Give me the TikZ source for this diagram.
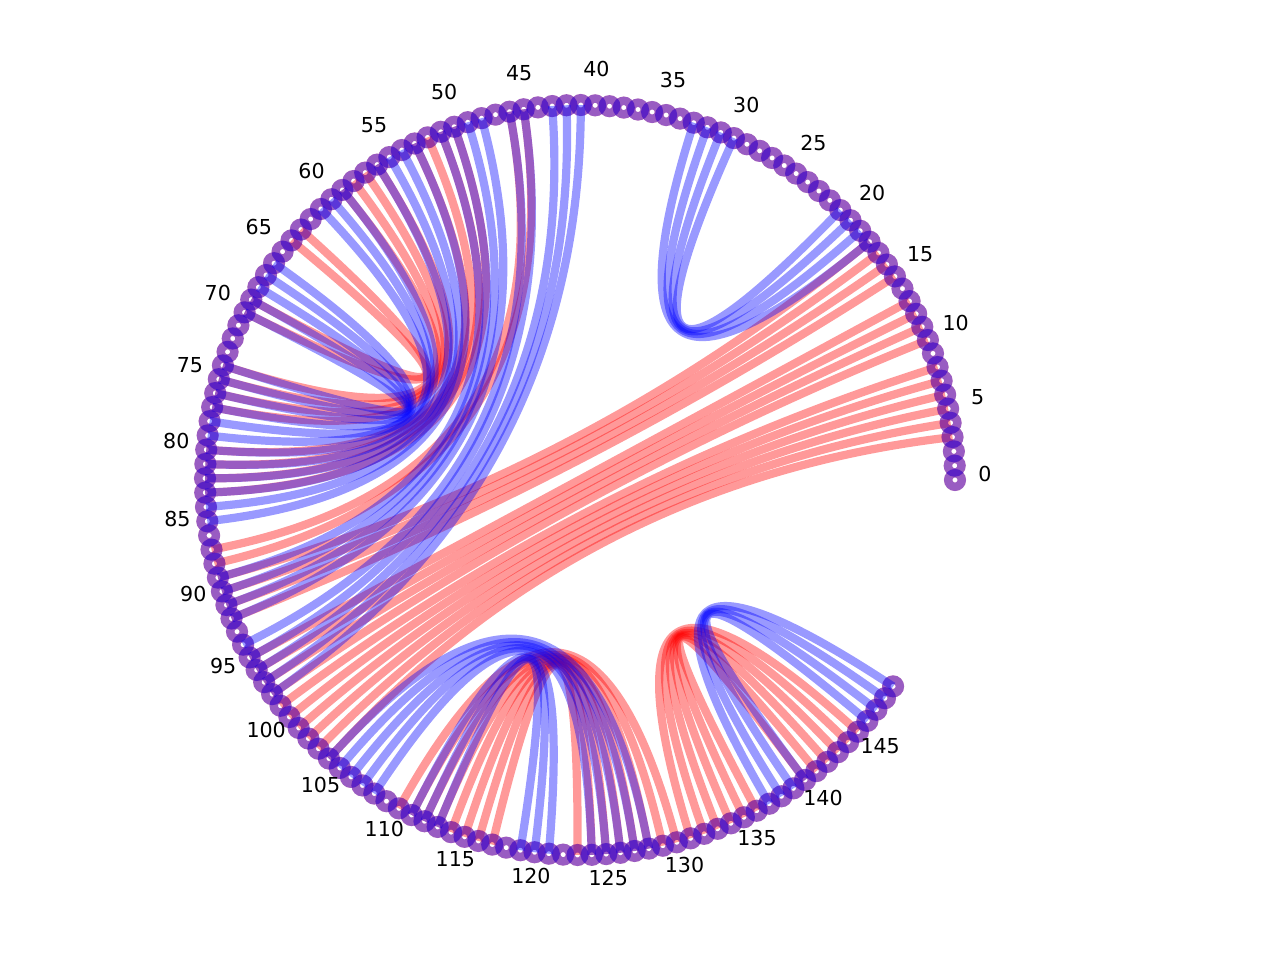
\documentclass[tikz,border=0pt]{standalone}
\usepackage{fontspec}
\setmainfont{DejaVu Sans}
\usetikzlibrary{calc}
\newcommand{\mychord}[3]{\draw[#3] (n#1) .. controls ($(n#1)!0.6667!(c)$) and ($(n#2)!0.6667!(c)$) .. (n#2);}
\begin{document}
\begin{tikzpicture}[x=0.5pt,y=0.5pt,
  redE/.style={draw=red, draw opacity=0.4, line width=4.1pt},
  blueE/.style={draw=blue, draw opacity=0.4, line width=4.1pt},
  redN/.style={draw=red, draw opacity=0.4, line width=4.2pt},
  blueN/.style={draw=blue, draw opacity=0.4, line width=4.2pt},
  lab/.style={font=\fontsize{10.3}{12}\selectfont, inner sep=0pt}]
\useasboundingbox (-580,-480) rectangle (700,480);
\coordinate (c) at (0,0);
\foreach \i in {0,...,149} { \coordinate (n\i) at ({\i*2.192}:375); }
% red structure
\foreach \a/\b in {3/104,4/103,5/102,6/101,7/100,8/99,10/98,11/97,12/96,13/95,15/92,16/91,17/90,18/89,
  45/88,46/87,50/83,51/82,52/81,53/80,56/77,57/76,58/75,59/74,63/70,64/69,
  110/130,111/129,112/128,113/127,114/126,115/125,116/124,117/123,
  131/145,132/144,133/143,134/142,135/141,136/140} { \mychord{\a}{\b}{redE} }
\foreach \i in {0,...,149} { \draw[redN] (n\i) circle (3.4pt); }
% blue structure
\foreach \a/\b in {18/33,19/32,20/31,21/30,
  41/98,42/97,43/96,45/95,46/94,48/92,49/91,50/90,51/89,53/85,54/84,55/83,56/82,59/81,60/80,61/79,
  66/78,67/77,68/76,69/75,70/74,
  104/128,105/127,106/126,107/125,108/124,111/121,112/120,113/119,
  137/149,138/148,139/147,140/146} { \mychord{\a}{\b}{blueE} }
\foreach \i in {0,...,149} { \draw[blueN] (n\i) circle (3.4pt); }
% labels
\foreach \i in {0,5,...,145} { \node[lab] (l\i) at ($({\i*2.192}:405)+(0,6)$) {\i}; }
\end{tikzpicture}
\end{document}
